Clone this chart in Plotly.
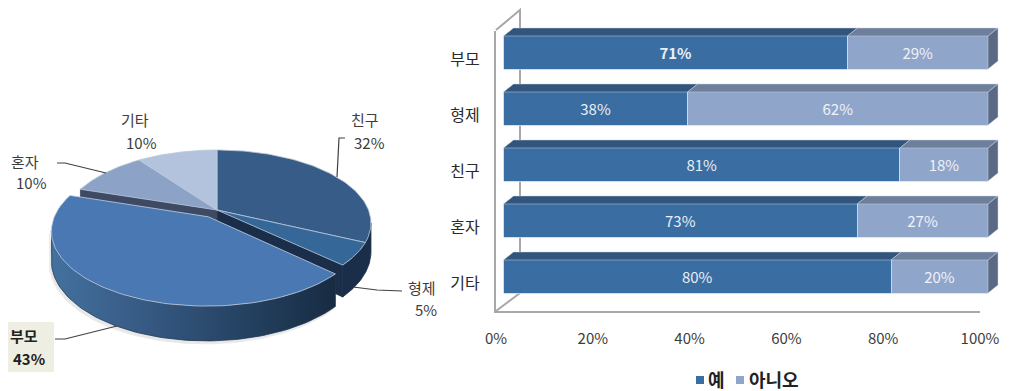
import math
import plotly.graph_objects as go

# Household breakdown shown on the tilted pie
pie_labels = ["친구", "형제", "부모", "혼자", "기타"]
pie_values = [32, 5, 43, 10, 10]

# Yes / no answers per group, shown as stacked bars
bar_categories = ["부모", "형제", "친구", "혼자", "기타"]
yes_values = [71, 38, 81, 73, 80]
no_values = [29, 62, 18, 27, 20]
series_names = ["예", "아니오"]
percent_ticks = [0, 20, 40, 60, 80, 100]

WIDTH, HEIGHT = 1009, 391
FONT = "Noto Sans CJK KR"
TEXT = "#3c3c3c"
WALL = "#a8a8a8"

YES_FRONT, YES_TOP = "#3a6da1", "#33557b"
NO_FRONT, NO_TOP, NO_SIDE = "#90a5ca", "#6e7f9c", "#5a6a85"


def px_x(p):
    return p / WIDTH


def px_y(p):
    return 1 - p / HEIGHT


fig = go.Figure()

# ---- wall and floor axes of the bar chart ----
fig.add_trace(go.Scatter(x=[0], y=[0], xaxis="x", yaxis="y", mode="markers",
                         marker=dict(opacity=0), hoverinfo="skip", showlegend=False))

# ---- stacked bars ----
fig.add_trace(go.Bar(
    name=series_names[0], orientation="h", y=list(range(5)), x=yes_values,
    xaxis="x2", yaxis="y2", marker=dict(color=YES_FRONT, line=dict(color="#c9d6e6", width=0.8)),
    text=[f"<b>{v}%</b>" if i == 0 else f"{v}%" for i, v in enumerate(yes_values)],
    textposition="inside", insidetextanchor="middle", textangle=0, constraintext="none",
    textfont=dict(family=FONT, size=15, color="#e9eff6"), hoverinfo="skip", showlegend=False))
fig.add_trace(go.Bar(
    name=series_names[1], orientation="h", y=list(range(5)), x=no_values,
    xaxis="x2", yaxis="y2", marker=dict(color=NO_FRONT, line=dict(color="#d4deec", width=0.8)),
    text=[f"{v}%" for v in no_values],
    textposition="inside", insidetextanchor="middle", textangle=0, constraintext="none",
    textfont=dict(family=FONT, size=15, color="#eef2f8"), hoverinfo="skip", showlegend=False))

# Extruded top and end faces, offset from each bar's share of its row
BAR_HALF = 0.295
DEPTH_X = 10 / 4.845
DEPTH_Y = 8 / 56


def outline(points):
    xs, ys = [], []
    for poly in points:
        xs += [p[0] for p in poly] + [poly[0][0], None]
        ys += [p[1] for p in poly] + [poly[0][1], None]
    return xs, ys


def top_face(a, b, row):
    t = row - BAR_HALF
    return [(a, t), (b, t), (b + DEPTH_X, t - DEPTH_Y), (a + DEPTH_X, t - DEPTH_Y)]


yes_tops, no_tops, ends = [], [], []
for row, (yes, no) in enumerate(zip(yes_values, no_values)):
    split = 100 * yes / (yes + no)
    yes_tops.append(top_face(0, split, row))
    no_tops.append(top_face(split, 100, row))
    t, b = row - BAR_HALF, row + BAR_HALF
    ends.append([(100, t), (100 + DEPTH_X, t - DEPTH_Y), (100 + DEPTH_X, b - DEPTH_Y), (100, b)])

for polys, colour in [(yes_tops, YES_TOP), (no_tops, NO_TOP), (ends, NO_SIDE)]:
    xs, ys = outline(polys)
    fig.add_trace(go.Scatter(x=xs, y=ys, xaxis="x2", yaxis="y2", mode="lines", fill="toself",
                             fillcolor=colour, line=dict(color="#c9d6e6", width=0.5),
                             hoverinfo="skip", showlegend=False))

# ---- tilted pie: a circle seen in perspective ----
CX, CY = 217, 210
RX, RY, PERSP = 151.5, 70.7, 0.178
THICK = 28
EXPLODE = 0.11


def project(u, v, drop=0.0):
    d = 1 + PERSP * v
    return CX + RX * u / d, CY - RY * v / d + drop / d


def rim(a0, a1, offset=(0, 0), drop=0.0, n=80):
    pts = []
    for i in range(n + 1):
        a = math.radians(a0 + (a1 - a0) * i / n)
        pts.append(project(math.sin(a) + offset[0], math.cos(a) + offset[1], drop))
    return pts


def add_poly(pts, colour, line_colour=None, gradient=None):
    xs = [p[0] for p in pts] + [pts[0][0]]
    ys = [p[1] for p in pts] + [pts[0][1]]
    kw = dict(fillgradient=gradient) if gradient else dict(fillcolor=colour)
    fig.add_trace(go.Scatter(x=xs, y=ys, xaxis="x3", yaxis="y3", mode="lines", fill="toself",
                             line=dict(color=line_colour or colour, width=0.8),
                             hoverinfo="skip", showlegend=False, **kw))


total = sum(pie_values)
angles = {}
run = 0
for name, v in zip(pie_labels, pie_values):
    angles[name] = (run / total * 360, (run + v) / total * 360)
    run += v

a_front_start = angles["형제"][1]
a_back_end = angles["혼자"][0]
silhouette_r = 90 + math.degrees(math.asin(PERSP))
silhouette_l = 270 - math.degrees(math.asin(PERSP))

# large slice, shifted along its mid-angle
a0, a1 = angles["부모"]
mid = math.radians((a0 + a1) / 2)
shift = (EXPLODE * math.sin(mid), EXPLODE * math.cos(mid))
side_pts = rim(a0, silhouette_l, shift) + rim(silhouette_l, a0, shift, drop=THICK)

# faint drop shadow under the pulled-out slice
add_poly([(x - 2, y + 3) for x, y in side_pts], "#e8e8e8")

# outer rim of the slices behind the gap
add_poly(rim(silhouette_r, a_front_start) + rim(a_front_start, silhouette_r, drop=THICK), "#1a2e4a")
# cut faces exposed by pulling the large slice forward
for ang, colour in [(a_front_start, "#1a2e4a"), (a_back_end, "#3e4a63")]:
    edge = rim(ang, ang, n=1)[0]
    edge_low = rim(ang, ang, drop=THICK, n=1)[0]
    add_poly([project(0, 0), edge, edge_low, project(0, 0, THICK)], colour)

slice_colours = {"친구": "#375c87", "형제": "#366799", "혼자": "#8ca2c6", "기타": "#b4c3dd"}
for name, colour in slice_colours.items():
    s0, s1 = angles[name]
    add_poly([project(0, 0)] + rim(s0, s1), colour, line_colour="#b9c6d8")

add_poly(side_pts, None, line_colour="#1f3550",
         gradient=dict(type="horizontal", start=50, stop=336,
                       colorscale=[[0, "#44719f"], [0.4, "#33557d"], [0.7, "#23405f"], [1, "#182b42"]]))
add_poly([project(*shift)] + rim(a0, a1, shift), "#4a78b2", line_colour="#c3d0e2")

# ---- leader lines, wall lines, legend swatches ----
shapes = []


def poly_line(pts, colour, width):
    path = "M " + " L ".join(f"{px_x(x)},{px_y(y)}" for x, y in pts)
    shapes.append(dict(type="path", path=path, xref="paper", yref="paper",
                       line=dict(color=colour, width=width), layer="below"))


poly_line([(496, 30), (520, 10), (520, 293), (496, 311)], WALL, 2)
leaders = [
    [(337, 177), (339, 138), (345, 138)],
    [(353, 287), (377, 290), (402, 291)],
    [(117, 326), (65, 339), (55, 339)],
    [(106, 173), (65, 163), (57, 163)],
]
for pts in leaders:
    path = "M " + " L ".join(f"{px_x(x)},{px_y(y)}" for x, y in pts)
    shapes.append(dict(type="path", path=path, xref="paper", yref="paper",
                       line=dict(color="#404040", width=1.2), layer="above"))

# highlighted background behind the largest slice's label
shapes.append(dict(type="rect", xref="paper", yref="paper", x0=px_x(8), x1=px_x(54),
                   y0=px_y(372), y1=px_y(322), fillcolor="#eeeee2", line_width=0, layer="below"))

for x0, colour in [(696, YES_FRONT), (736, NO_FRONT)]:
    shapes.append(dict(type="rect", xref="paper", yref="paper", x0=px_x(x0), x1=px_x(x0 + 8),
                       y0=px_y(384), y1=px_y(376), fillcolor=colour, line_width=0))

# ---- text ----
annotations = []


def label(text, x, y, size=14, bold=False, colour=TEXT):
    annotations.append(dict(text=f"<b>{text}</b>" if bold else text, x=px_x(x), y=px_y(y),
                            xref="paper", yref="paper", showarrow=False,
                            xanchor="center", yanchor="middle",
                            font=dict(family=FONT, size=size, color=colour)))


pie_label_pos = {
    "친구": ((365, 119), (369, 142)),
    "형제": ((422, 287), (426, 309)),
    "부모": ((24, 335), (29, 358)),
    "혼자": ((25, 161), (31, 183)),
    "기타": ((135, 119), (141, 142)),
}
for name, v in zip(pie_labels, pie_values):
    (nx, ny), (vx, vy) = pie_label_pos[name]
    strong = name == "부모"
    label(name, nx, ny, 15, strong, "#222222" if strong else TEXT)
    label(f"{v}%", vx, vy, 15, strong, "#222222" if strong else TEXT)

label(series_names[0], 716, 379, 18, True, "#222222")
label(series_names[1], 774, 379, 18, True, "#222222")

fig.update_layout(
    width=WIDTH, height=HEIGHT, autosize=False,
    margin=dict(l=0, r=0, t=0, b=0),
    paper_bgcolor="white", plot_bgcolor="rgba(0,0,0,0)",
    barmode="stack", barnorm="percent", bargap=0.41,
    shapes=shapes, annotations=annotations,
    xaxis=dict(domain=[px_x(496), px_x(980)], range=[0, 100], anchor="y", automargin=False,
               tickvals=percent_ticks, ticktext=[f"{t}%" for t in percent_ticks],
               ticks="outside", ticklen=13, tickcolor="rgba(0,0,0,0)",
               showline=True, linecolor=WALL, linewidth=2, showgrid=False, zeroline=False,
               tickfont=dict(family=FONT, size=15, color=TEXT), fixedrange=True),
    yaxis=dict(domain=[px_y(311), px_y(31)], range=[4.5, -0.5], anchor="x", automargin=False,
               tickvals=list(range(5)), ticktext=bar_categories,
               ticks="outside", ticklen=11, tickcolor="rgba(0,0,0,0)",
               showline=True, linecolor=WALL, linewidth=2, showgrid=False, zeroline=False,
               tickfont=dict(family=FONT, size=16, color="#2a2a2a"), fixedrange=True),
    xaxis2=dict(domain=[px_x(496), px_x(1003)], anchor="y2", automargin=False,
                range=[(496 - 503.5) / 4.845, (1003 - 503.5) / 4.845],
                visible=False, fixedrange=True),
    yaxis2=dict(domain=[px_y(304.5), px_y(24.5)], range=[4.5, -0.5], anchor="x2", automargin=False,
                visible=False, fixedrange=True),
    xaxis3=dict(domain=[0, 1], range=[0, WIDTH], anchor="y3", automargin=False,
                visible=False, fixedrange=True),
    yaxis3=dict(domain=[0, 1], range=[HEIGHT, 0], anchor="x3", automargin=False,
                visible=False, fixedrange=True),
)

fig.write_html("out.html", config=dict(displayModeBar=False))
